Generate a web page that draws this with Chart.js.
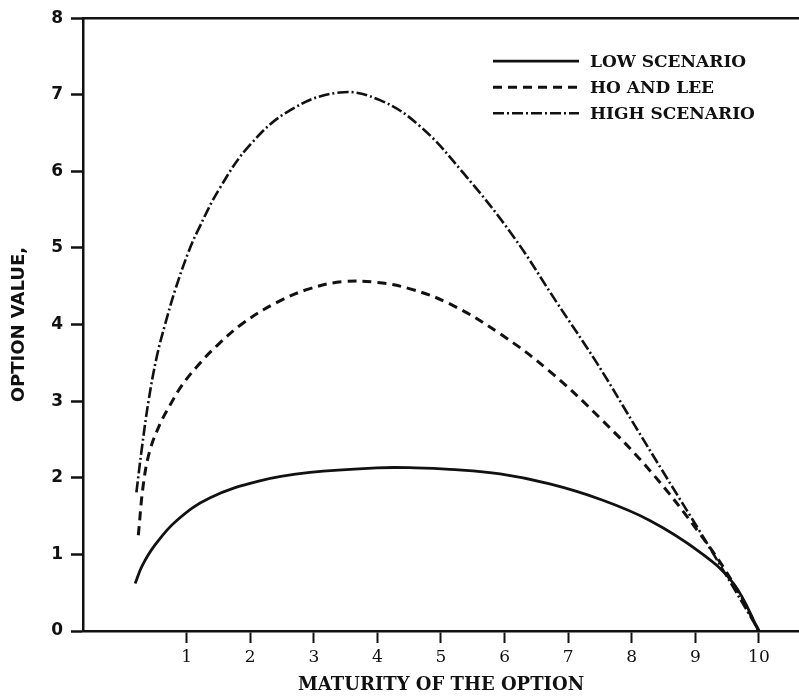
<!DOCTYPE html>
<html>
<head>
<meta charset="utf-8">
<script src="https://cdn.jsdelivr.net/npm/chart.js@4"></script>
<style>
  html, body { margin: 0; padding: 0; background: #fff; }
  #wrap { width: 799px; height: 696px; position: relative; }
</style>
</head>
<body>
<div id="wrap"><canvas id="optionChart"></canvas></div>
<script>
// Option value vs maturity, three rate scenarios

const seriesNames = ['LOW SCENARIO', 'HO AND LEE', 'HIGH SCENARIO'];

const lowX = [0.19, 0.3, 0.5, 0.84, 1.37, 2.15, 2.94, 3.99, 4.6, 5.14, 5.93, 6.71, 7.5, 8.29, 9.07, 9.6, 10];
const lowY = [0.62, 0.85, 1.12, 1.44, 1.74, 1.96, 2.07, 2.13, 2.13, 2.11, 2.05, 1.92, 1.72, 1.44, 1.03, 0.62, 0];

const hoX = [0.24, 0.32, 0.42, 0.58, 0.74, 0.92, 1.16, 1.47, 1.89, 2.42, 2.94, 3.46, 4.0, 4.5, 5.14, 5.93, 6.71, 7.5, 8.29, 9.07, 9.6, 10];
const hoY = [1.25, 1.92, 2.35, 2.7, 2.95, 3.2, 3.45, 3.72, 4.02, 4.29, 4.47, 4.56, 4.55, 4.47, 4.27, 3.88, 3.39, 2.78, 2.09, 1.27, 0.62, 0];

const highX = [0.21, 0.29, 0.4, 0.53, 0.66, 0.83, 1.03, 1.16, 1.52, 2.0, 2.63, 3.41, 4.04, 4.67, 5.35, 6.13, 6.82, 7.45, 8.02, 8.55, 9.07, 9.49, 10];
const highY = [1.81, 2.35, 3.0, 3.58, 4.0, 4.48, 4.95, 5.2, 5.78, 6.35, 6.8, 7.03, 6.93, 6.59, 5.98, 5.16, 4.29, 3.5, 2.72, 2.0, 1.3, 0.72, 0];

const xTicks = [1, 2, 3, 4, 5, 6, 7, 8, 9, 10];
const yTicks = [0, 1, 2, 3, 4, 5, 6, 7, 8];

function toPoints(xs, ys) {
    return xs.map((x, i) => ({ x: x, y: ys[i] }));
}

const serif = "'DejaVu Serif', 'Liberation Serif', serif";
const sans = "'DejaVu Sans', 'Liberation Sans', sans-serif";

// top frame line
const topLinePlugin = {
    id: 'topLine',
    afterDraw(chart) {
        const { ctx, chartArea } = chart;
        ctx.save();
        ctx.strokeStyle = '#111';
        ctx.lineWidth = 2.5;
        ctx.beginPath();
        ctx.moveTo(chartArea.left, chartArea.top);
        ctx.lineTo(chartArea.right, chartArea.top);
        ctx.stroke();
        ctx.restore();
    }
};

// line-sample legend inside the plot, top right
const sampleLegendPlugin = {
    id: 'sampleLegend',
    afterDraw(chart) {
        const { ctx, chartArea } = chart;
        const x0 = chartArea.right - 306;
        const x1 = x0 + 86;
        ctx.save();
        chart.data.datasets.forEach((ds, i) => {
            const y = chartArea.top + 43 + i * 26;
            ctx.strokeStyle = '#111';
            ctx.lineWidth = ds.borderWidth;
            ctx.setLineDash(ds.borderDash || []);
            ctx.beginPath();
            ctx.moveTo(x0, y);
            ctx.lineTo(x1, y);
            ctx.stroke();
            ctx.setLineDash([]);
            ctx.fillStyle = '#111';
            ctx.font = 'bold 17px ' + serif;
            ctx.textBaseline = 'middle';
            ctx.fillText(ds.label, x1 + 11, y + 1);
        });
        ctx.restore();
    }
};

const ctx = document.getElementById('optionChart').getContext('2d');

new Chart(ctx, {
    type: 'scatter',
    data: {
        datasets: [
            {
                label: seriesNames[0],
                data: toPoints(lowX, lowY),
                showLine: true,
                borderColor: '#111',
                borderWidth: 2.8,
                borderDash: [],
                pointRadius: 0,
                tension: 0.4
            },
            {
                label: seriesNames[1],
                data: toPoints(hoX, hoY),
                showLine: true,
                borderColor: '#111',
                borderWidth: 3,
                borderDash: [9, 6],
                pointRadius: 0,
                tension: 0.4
            },
            {
                label: seriesNames[2],
                data: toPoints(highX, highY),
                showLine: true,
                borderColor: '#111',
                borderWidth: 2.6,
                borderDash: [11, 3, 2, 3],
                pointRadius: 0,
                tension: 0.4
            }
        ]
    },
    options: {
        responsive: true,
        maintainAspectRatio: false,
        animation: false,
        layout: { padding: { top: 14, right: 0, left: 0, bottom: 0 } },
        plugins: {
            legend: { display: false },
            tooltip: { enabled: false }
        },
        scales: {
            x: {
                type: 'linear',
                min: -0.63,
                max: 10.63,
                afterBuildTicks: scale => {
                    scale.ticks = xTicks.map(v => ({ value: v }));
                },
                afterFit: scale => { scale.height = 65; },
                border: { display: true, color: '#111', width: 2.5 },
                grid: {
                    display: true,
                    drawOnChartArea: false,
                    drawTicks: true,
                    tickLength: 12,
                    tickWidth: 2,
                    tickColor: '#111'
                },
                ticks: {
                    color: '#111',
                    padding: 4,
                    maxRotation: 0,
                    font: { family: serif, size: 17 }
                },
                title: {
                    display: true,
                    text: 'MATURITY OF THE OPTION',
                    color: '#111',
                    padding: { top: 0, bottom: 0 },
                    font: { family: serif, size: 18, weight: 'bold' }
                }
            },
            y: {
                type: 'linear',
                min: 0,
                max: 8,
                afterBuildTicks: scale => {
                    scale.ticks = yTicks.map(v => ({ value: v }));
                },
                afterFit: scale => { scale.width = 83; },
                border: { display: true, color: '#111', width: 2.5 },
                grid: {
                    display: true,
                    drawOnChartArea: false,
                    drawTicks: true,
                    tickLength: 12,
                    tickWidth: 2.5,
                    tickColor: '#111'
                },
                ticks: {
                    color: '#111',
                    padding: 8,
                    font: { family: sans, size: 17, weight: 'bold' }
                },
                title: {
                    display: true,
                    text: 'OPTION VALUE,',
                    color: '#111',
                    padding: { top: 9, bottom: 0 },
                    font: { family: sans, size: 18, weight: 'bold' }
                }
            }
        }
    },
    plugins: [topLinePlugin, sampleLegendPlugin]
});
</script>
</body>
</html>
